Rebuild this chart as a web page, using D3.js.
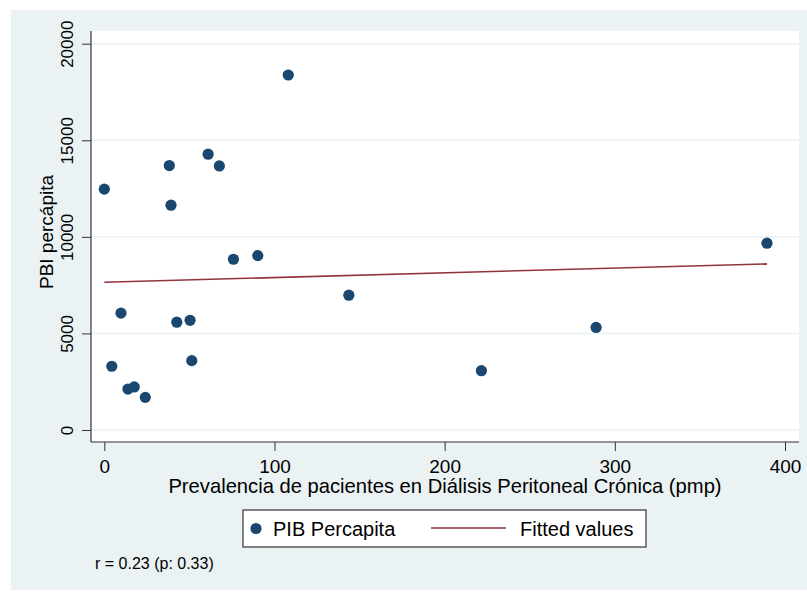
<!DOCTYPE html>
<html>
<head>
<meta charset="utf-8">
<script src="https://cdn.jsdelivr.net/npm/d3@7"></script>
<style>
  body { margin: 0; background: #fff; }
  text { font-family: "Liberation Sans", Arial, sans-serif; fill: #000; }
</style>
</head>
<body>
<script>
var width = 807;
var height = 599;

// data
var prevalencia = [0, 38.2, 39.2, 61.0, 67.6, 108.1, 75.9, 90.2, 9.8, 42.6,
                   50.4, 51.4, 4.4, 13.9, 17.6, 24.1, 143.7, 221.6, 289.0, 389.4];
var pib = [12470, 13690, 11640, 14280, 13670, 18380, 8840, 9030, 6050, 5580,
           5680, 3590, 3300, 2120, 2230, 1690, 6980, 3070, 5310, 9670];
var fitX = [0, 389.4];
var fitY = [7650, 8600];
var xTicks = [0, 100, 200, 300, 400];
var yTicks = [0, 5000, 10000, 15000, 20000];

var svg = d3.select("body").append("svg")
  .attr("width", width).attr("height", height);

// outer graph region
svg.append("rect")
  .attr("x", 11).attr("y", 10).attr("width", 796).attr("height", 580)
  .style("fill", "#eaf2f3");

var plot = { left: 91, right: 799, top: 31, bottom: 442 };

svg.append("rect")
  .attr("x", plot.left).attr("y", plot.top)
  .attr("width", plot.right - plot.left).attr("height", plot.bottom - plot.top)
  .style("fill", "#fff");

var x = d3.scaleLinear().domain([0, 400]).range([104.3, 785]);
var y = d3.scaleLinear().domain([0, 20000]).range([430, 43.7]);

// gridlines
svg.selectAll("line.grid").data(yTicks).enter().append("line")
  .attr("class", "grid")
  .attr("x1", plot.left).attr("x2", plot.right)
  .attr("y1", function (d) { return y(d); })
  .attr("y2", function (d) { return y(d); })
  .style("stroke", "#eaf2f3")
  .style("stroke-width", 1.5);

// y axis
var yAxis = svg.append("g")
  .attr("transform", "translate(" + plot.left + ",0)")
  .call(d3.axisLeft(y).tickValues(yTicks).tickSize(9).tickFormat(d3.format("d")));
yAxis.select(".domain").remove();
yAxis.selectAll(".tick line").style("stroke", "#333");
yAxis.selectAll(".tick text")
  .attr("x", 0).attr("dy", 0)
  .attr("text-anchor", "middle")
  .attr("transform", "translate(-18,0) rotate(-90)")
  .style("font-size", "17px")
  .style("font-family", "Liberation Sans, Arial, sans-serif");

svg.append("line")
  .attr("x1", plot.left).attr("x2", plot.left)
  .attr("y1", plot.top).attr("y2", plot.bottom)
  .style("stroke", "#333").style("stroke-width", 1.2);

// x axis
var xAxis = svg.append("g")
  .attr("transform", "translate(0," + plot.bottom + ")")
  .call(d3.axisBottom(x).tickValues(xTicks).tickSize(9).tickFormat(d3.format("d")));
xAxis.select(".domain").remove();
xAxis.selectAll(".tick line").style("stroke", "#333");
xAxis.selectAll(".tick text")
  .attr("y", 31).attr("dy", 0)
  .style("font-size", "19px")
  .style("font-family", "Liberation Sans, Arial, sans-serif");

svg.append("line")
  .attr("x1", plot.left).attr("x2", plot.right)
  .attr("y1", plot.bottom).attr("y2", plot.bottom)
  .style("stroke", "#333").style("stroke-width", 1.2);

// fitted line
var line = d3.line()
  .x(function (d) { return x(d[0]); })
  .y(function (d) { return y(d[1]); });
svg.append("path")
  .datum(d3.zip(fitX, fitY))
  .attr("d", line)
  .style("fill", "none")
  .style("stroke", "#90353b")
  .style("stroke-width", 1.6);

// points
svg.selectAll("circle.pt").data(d3.zip(prevalencia, pib)).enter().append("circle")
  .attr("class", "pt")
  .attr("cx", function (d) { return x(d[0]); })
  .attr("cy", function (d) { return y(d[1]); })
  .attr("r", 5.6)
  .style("fill", "#1a476f");

// axis titles
svg.append("text")
  .attr("x", (plot.left + plot.right) / 2).attr("y", 493)
  .attr("text-anchor", "middle")
  .style("font-size", "20.2px")
  .text("Prevalencia de pacientes en Diálisis Peritoneal Crónica (pmp)");

svg.append("text")
  .attr("transform", "translate(53,232) rotate(-90)")
  .attr("text-anchor", "middle")
  .style("font-size", "19px")
  .text("PBI percápita");

// legend
var legend = svg.append("g");
legend.append("rect")
  .attr("x", 243).attr("y", 510).attr("width", 403).attr("height", 37)
  .style("fill", "#fff").style("stroke", "#333").style("stroke-width", 1.2);
legend.append("circle")
  .attr("cx", 256).attr("cy", 528.5).attr("r", 5.6)
  .style("fill", "#1a476f");
legend.append("text")
  .attr("x", 273).attr("y", 535.5)
  .style("font-size", "20px")
  .text("PIB Percapita");
legend.append("line")
  .attr("x1", 431).attr("x2", 506).attr("y1", 528).attr("y2", 528)
  .style("stroke", "#90353b").style("stroke-width", 1.6);
legend.append("text")
  .attr("x", 520).attr("y", 535.5)
  .style("font-size", "20px")
  .text("Fitted values");

// note
svg.append("text")
  .attr("x", 95).attr("y", 569)
  .style("font-size", "16px")
  .text("r = 0.23 (p: 0.33)");
</script>
</body>
</html>
